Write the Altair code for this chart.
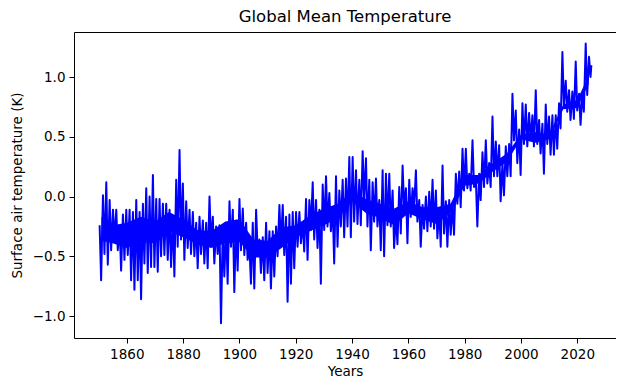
import altair as alt
import numpy as np
import pandas as pd

# Envelope of the monthly series: for each ~1.18-year
# block from 1850 to 2025, the highest and lowest value reached (K).
hi_values = [
    -0.24, 0.01, 0.12, -0.03, -0.11, -0.11, -0.25, -0.15, -0.11, -0.11,
    -0.13, -0.03, -0.13, -0.06, 0.07, 0.00, 0.18, -0.02, -0.02, -0.06,
    -0.06, -0.11, -0.17, 0.14, 0.39, 0.11, -0.04, -0.11, -0.13, -0.22,
    -0.17, -0.20, -0.22, 0.00, -0.17, -0.25, -0.24, -0.25,
    -0.25, -0.04, -0.11, -0.20, -0.02, -0.10, -0.22, -0.42, -0.22, -0.11,
    -0.36, -0.34, -0.22, -0.29, -0.29, -0.25, -0.07, -0.07, -0.17, -0.15,
    -0.13, -0.13, -0.13, -0.22, -0.02, -0.03, 0.12, -0.03, -0.11, 0.10,
    0.17, 0.03, -0.09, 0.17, 0.05, 0.14, 0.15, 0.33,
    0.33, 0.22, 0.14, 0.38, 0.32, 0.14, 0.12, 0.15, -0.03, 0.22,
    0.19, 0.19, 0.05, -0.15, 0.08, 0.26, 0.07, 0.14, 0.07, 0.22,
    -0.03, -0.07, 0.00, 0.04, 0.14, 0.05, -0.10, 0.26, -0.04, -0.03,
    -0.06, 0.19, 0.21, 0.40, 0.40, 0.19, 0.47, 0.15,
    0.19, 0.37, 0.47, 0.28, 0.67, 0.46, 0.43, 0.28, 0.42, 0.44,
    0.86, 0.72, 0.56, 0.78, 0.77, 0.70, 0.68, 0.89, 0.64, 0.61,
    0.77, 0.67, 0.68, 0.68, 0.78, 1.21, 0.97, 0.89, 0.88, 1.13,
    0.86, 0.86, 1.28, 1.17,
]
lo_values = [
    -0.70, -0.48, -0.57, -0.45, -0.36, -0.45, -0.62, -0.53, -0.49, -0.70,
    -0.78, -0.70, -0.86, -0.56, -0.64, -0.59, -0.59, -0.63, -0.50, -0.49,
    -0.53, -0.59, -0.67, -0.42, -0.36, -0.53, -0.43, -0.48, -0.50, -0.60,
    -0.48, -0.56, -0.60, -0.39, -0.56, -0.48, -1.06, -0.67,
    -0.73, -0.42, -0.80, -0.62, -0.45, -0.49, -0.53, -0.73, -0.77, -0.45,
    -0.64, -0.70, -0.64, -0.77, -0.67, -0.50, -0.42, -0.49, -0.88, -0.73,
    -0.60, -0.42, -0.39, -0.46, -0.53, -0.28, -0.36, -0.43, -0.73, -0.28,
    -0.25, -0.29, -0.56, -0.42, -0.25, -0.34, -0.25, -0.34,
    -0.21, -0.23, -0.24, -0.03, -0.25, -0.45, -0.21, -0.25, -0.45, -0.50,
    -0.24, -0.25, -0.43, -0.40, -0.31, -0.09, -0.39, -0.17, -0.09, -0.21,
    -0.42, -0.27, -0.29, -0.25, -0.27, -0.35, -0.42, -0.31, -0.42, -0.32,
    -0.32, -0.06, -0.09, 0.05, 0.07, 0.05, 0.08, -0.25,
    -0.03, 0.08, 0.11, 0.08, 0.17, 0.17, -0.04, 0.01, 0.17, 0.17,
    0.47, 0.28, 0.18, 0.44, 0.42, 0.47, 0.42, 0.44, 0.36, 0.19,
    0.44, 0.35, 0.35, 0.40, 0.57, 0.75, 0.71, 0.64, 0.65, 0.72,
    0.60, 0.71, 0.85, 1.00,
]
first_year = 1850.0
last_year = 2025.0
last_value = 1.10

# The densest part of the band (where the monthly values pile up), read per 5 years.
core_years = [1851, 1855, 1860, 1865, 1870, 1875, 1880, 1885, 1890, 1895,
              1900, 1905, 1910, 1915, 1920, 1925, 1930, 1935, 1940, 1945,
              1950, 1955, 1960, 1965, 1970, 1975, 1980, 1985, 1990, 1995,
              2000, 2005, 2010, 2015, 2020, 2024]
core_hi = [-0.17, -0.24, -0.22, -0.17, -0.21, -0.13, -0.19, -0.28, -0.29, -0.21,
           -0.19, -0.36, -0.37, -0.26, -0.24, -0.16, -0.10, -0.06, 0.04, -0.02,
           -0.06, -0.10, -0.04, -0.09, -0.09, -0.06, 0.18, 0.18, 0.28, 0.36,
           0.52, 0.54, 0.52, 0.77, 0.81, 1.01]
core_lo = [-0.37, -0.39, -0.43, -0.38, -0.39, -0.29, -0.34, -0.40, -0.43, -0.39,
           -0.38, -0.51, -0.51, -0.43, -0.34, -0.29, -0.24, -0.18, -0.04, -0.14,
           -0.18, -0.24, -0.14, -0.19, -0.23, -0.14, 0.09, 0.11, 0.21, 0.29,
           0.48, 0.45, 0.48, 0.73, 0.74, 0.94]

x_ticks = [1860, 1880, 1900, 1920, 1940, 1960, 1980, 2000, 2020]
y_ticks = [-1.0, -0.5, 0.0, 0.5, 1.0]

n = len(hi_values)
step = (last_year - first_year) / n
years, temps = [], []
for k in range(n):
    start = first_year + step * k
    years += [start + 0.3 * step, start + 0.75 * step]
    temps += [hi_values[k], lo_values[k]]
years.append(last_year)
temps.append(last_value)
df = pd.DataFrame({"year": years, "temp": temps, "order": np.arange(len(years))})
core = pd.DataFrame({"year": core_years, "hi": core_hi, "lo": core_lo})

font = "DejaVu Sans"
blue = "#0000ff"

x_scale = alt.Scale(domain=[1841.25, 2033.75], nice=False, zero=False)
y_scale = alt.Scale(domain=[-1.184, 1.377], nice=False, zero=False)

line = (
    alt.Chart(df)
    .mark_line(color=blue, strokeWidth=2.0, strokeJoin="round", clip=True)
    .encode(
        x=alt.X(
            "year:Q",
            scale=x_scale,
            axis=alt.Axis(
                values=x_ticks,
                format="d",
                title="Years",
                titlePadding=4,
                labelPadding=4,
            ),
        ),
        y=alt.Y(
            "temp:Q",
            scale=y_scale,
            axis=alt.Axis(
                values=y_ticks,
                labelExpr="replace(format(datum.value, '.1f'), '-', '\u2212')",
                title="Surface air temperature (K)",
                titlePadding=8,
                labelPadding=4,
            ),
        ),
        order="order:Q",
    )
)

band = (
    alt.Chart(core)
    .mark_area(color=blue, opacity=1, clip=True)
    .encode(
        x=alt.X("year:Q", scale=x_scale),
        y=alt.Y("lo:Q", scale=y_scale),
        y2="hi:Q",
    )
)

chart = (
    alt.layer(band, line)
    .properties(
        width=542,
        height=306,
        title=alt.TitleParams(
            "Global Mean Temperature",
            font=font,
            fontSize=16.5,
            fontWeight="normal",
            color="black",
            offset=7,
        ),
        autosize=alt.AutoSizeParams(type="none"),
        padding={"left": 66, "top": 24, "right": 0, "bottom": 45},
    )
    .configure_view(stroke="black", strokeWidth=1)
    .configure_axis(
        grid=False,
        domain=False,
        tickColor="black",
        tickSize=5,
        tickWidth=1,
        labelFont=font,
        labelFontSize=13.5,
        labelColor="black",
        titleFont=font,
        titleFontSize=13.5,
        titleFontWeight="normal",
        titleColor="black",
    )
)

chart.save("out.html", embed_options={"renderer": "svg", "actions": False})
